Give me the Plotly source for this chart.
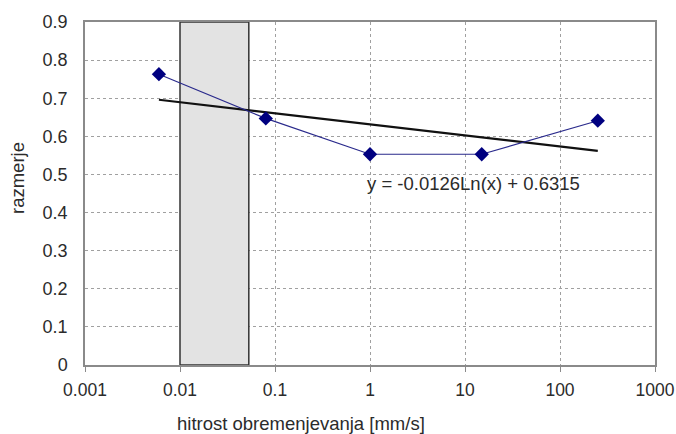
import numpy as np
import plotly.graph_objects as go

rate = [0.006, 0.08, 1.0, 15.0, 250.0]          # hitrost obremenjevanja [mm/s]
ratio = [0.763, 0.647, 0.553, 0.553, 0.641]     # razmerje

# log trendline as printed on the chart
trend_a = -0.0126
trend_b = 0.6315

# shaded band
band_x = [0.01, 0.053]
band_y = [0.0, 0.9]

x_ticks = [0.001, 0.01, 0.1, 1, 10, 100, 1000]
x_ticktext = ["0.001", "0.01", "0.1", "1", "10", "100", "1000"]
y_ticks = [0, 0.1, 0.2, 0.3, 0.4, 0.5, 0.6, 0.7, 0.8, 0.9]
y_ticktext = ["0", "0.1", "0.2", "0.3", "0.4", "0.5", "0.6", "0.7", "0.8", "0.9"]

FONT = "Liberation Sans, Arial, sans-serif"
TXT = "#2b2b2b"

W, H = 676, 434
PL, PT, PW, PH = 85, 22, 570, 343

fig = go.Figure()

# grey band as a closed filled polygon
fig.add_trace(go.Scatter(
    x=[band_x[0], band_x[0], band_x[1], band_x[1], band_x[0]],
    y=[band_y[0], band_y[1], band_y[1], band_y[0], band_y[0]],
    mode="lines", fill="toself", fillcolor="#e3e3e3",
    line={"color": "#333333", "width": 1.5},
    hoverinfo="skip", showlegend=False))

# trendline over the data range
tx = [min(rate), max(rate)]
ty = [trend_a * np.log(v) + trend_b for v in tx]
fig.add_trace(go.Scatter(x=tx, y=ty, mode="lines",
                         line={"color": "#111111", "width": 2.2},
                         showlegend=False))

fig.add_trace(go.Scatter(x=rate, y=ratio, mode="lines+markers",
                         line={"color": "#2a2a8c", "width": 1.2},
                         marker={"symbol": "diamond", "size": 11, "color": "#000080"},
                         showlegend=False))

fig.update_layout(
    width=W, height=H,
    margin={"l": PL, "r": W - PL - PW, "t": PT, "b": H - PT - PH},
    paper_bgcolor="white", plot_bgcolor="white",
    font={"family": FONT, "size": 18, "color": TXT},
    annotations=[
        {"text": "y = -0.0126Ln(x) + 0.6315", "xref": "paper", "yref": "paper",
         "x": (473 - PL) / PW, "y": 0.528, "showarrow": False,
         "xanchor": "center", "yanchor": "middle",
         "font": {"size": 18.5, "color": TXT}},
        {"text": "hitrost obremenjevanja [mm/s]", "xref": "paper", "yref": "paper",
         "x": (175 - PL) / PW, "y": (365 - 423) / PH, "showarrow": False,
         "xanchor": "left", "yanchor": "middle",
         "font": {"size": 18.5, "color": TXT}},
        {"text": "razmerje", "xref": "paper", "yref": "paper",
         "x": (17 - PL) / PW, "y": (365 - 178) / PH, "showarrow": False,
         "xanchor": "center", "yanchor": "middle", "textangle": -90,
         "font": {"size": 18.5, "color": TXT}},
    ],
)

fig.update_xaxes(type="log", range=[-3, 3], tickvals=x_ticks, ticktext=x_ticktext,
                 tickfont={"size": 17.5},
                 showgrid=True, gridcolor="#a0a0a0", griddash="dot", gridwidth=1,
                 showline=True, linecolor="#8a8a8a", linewidth=1.5, mirror=True,
                 ticks="outside", ticklen=5, tickcolor="#8a8a8a",
                 ticklabelstandoff=3, ticklabeloverflow="allow", automargin=False,
                 zeroline=False)
fig.update_yaxes(range=[0, 0.9], tickvals=y_ticks, ticktext=y_ticktext,
                 showgrid=True, gridcolor="#a0a0a0", griddash="dot", gridwidth=1,
                 showline=True, linecolor="#8a8a8a", linewidth=1.5, mirror=True,
                 ticks="", ticklabelstandoff=12, automargin=False, zeroline=False)

# drop the default 8px body margin so the figure sits flush in the window
fig.write_html("out.html", config={"displayModeBar": False},
               post_script="document.body.style.margin='0';"
                           "document.body.style.overflow='hidden';")
